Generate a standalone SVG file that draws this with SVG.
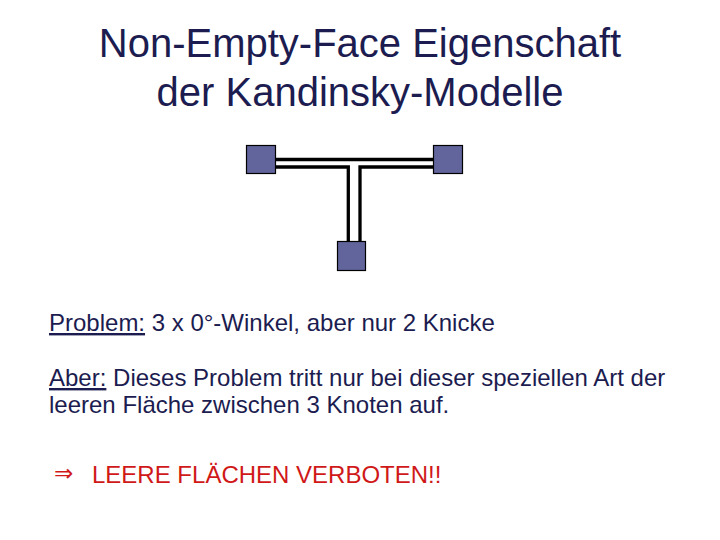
<svg xmlns="http://www.w3.org/2000/svg" width="720" height="540" viewBox="0 0 720 540">
<style>
.t{font-family:"Liberation Sans",Arial,sans-serif;fill:#1c1c50}
.title{font-size:40px;text-anchor:middle}
.body{font-size:24px}
.u{text-decoration:underline}
.red{font-family:"Liberation Sans",Arial,sans-serif;font-size:24px;fill:#d01818}
.node{fill:#62649c;stroke:#000;stroke-width:1.2}
.edge{fill:none;stroke:#000;stroke-width:3.3}
</style>
<rect width="720" height="540" fill="#fff"/>
<text class="t title" x="360" y="57">Non-Empty-Face Eigenschaft</text>
<text class="t title" x="360" y="106">der Kandinsky-Modelle</text>
<g id="connectors">
<line class="edge" x1="275" y1="159.5" x2="434" y2="159.5"/>
<polyline class="edge" points="275,167 348.3,167 348.3,242"/>
<polyline class="edge" points="434,167 360,167 360,242"/>
</g>
<g id="node-left"><rect class="node" x="246.5" y="145.5" width="29" height="28"/></g>
<g id="node-right"><rect class="node" x="433.5" y="145.5" width="29" height="28"/></g>
<g id="node-bottom"><rect class="node" x="337.5" y="241.5" width="28" height="29"/></g>
<text class="t body" x="49" y="331"><tspan class="u">Problem:</tspan> 3 x 0°-Winkel, aber nur 2 Knicke</text>
<text class="t body" x="49" y="386"><tspan class="u">Aber:</tspan> Dieses Problem tritt nur bei dieser speziellen Art der</text>
<text class="t body" x="49" y="413">leeren Fläche zwischen 3 Knoten auf.</text>
<text class="red" x="54" y="481" style="font-family:'DejaVu Sans',sans-serif;font-size:23px">⇒</text>
<text class="red" x="92" y="483">LEERE FLÄCHEN VERBOTEN!!</text>
</svg>
